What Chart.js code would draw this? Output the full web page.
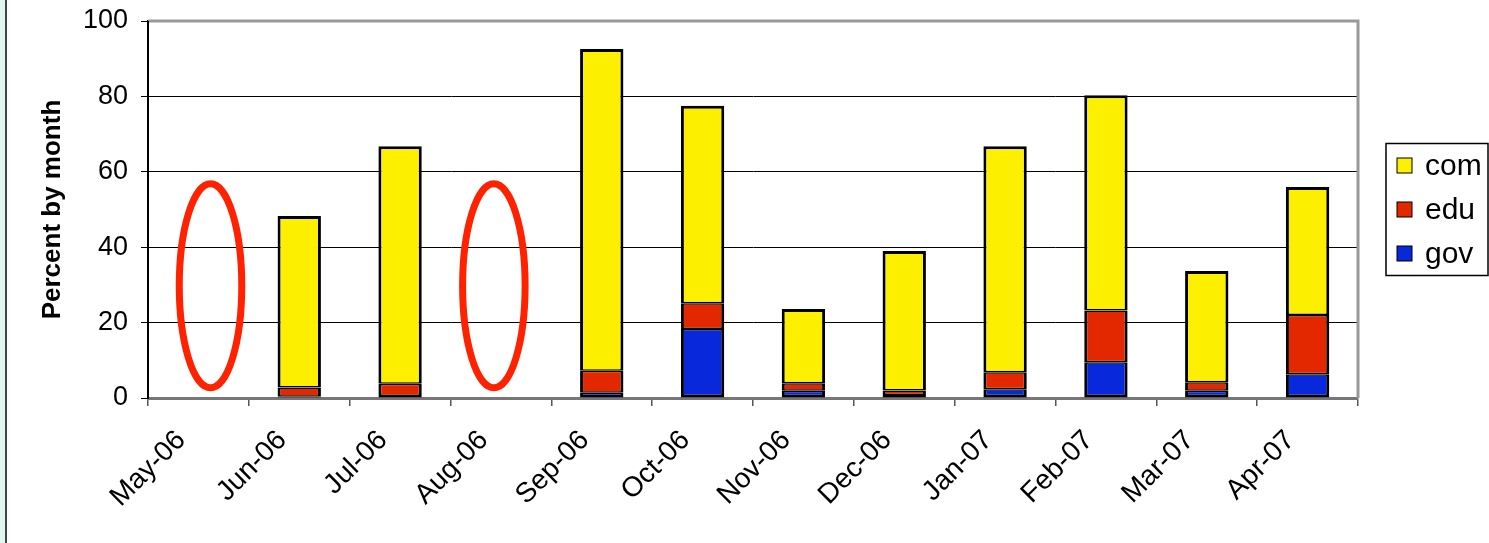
<!DOCTYPE html>
<html>
<head>
<meta charset="utf-8">
<script src="https://cdn.jsdelivr.net/npm/chart.js@4"></script>
<style>
  body { margin: 0; background: #fff; }
  #wrap { position: relative; width: 1489px; height: 543px; }
  #strip { position: absolute; left: 0; top: 0; width: 5px; height: 543px; background: #e4f6f1; border-right: 2px solid #3a4a44; }
  canvas { position: absolute; left: 0; top: 0; }
</style>
</head>
<body>
<div id="wrap">
  <div id="strip"></div>
  <canvas id="chart" width="1489" height="543"></canvas>
</div>
<script>
// Months on the x axis
const months = ['May-06', 'Jun-06', 'Jul-06', 'Aug-06', 'Sep-06', 'Oct-06', 'Nov-06', 'Dec-06', 'Jan-07', 'Feb-07', 'Mar-07', 'Apr-07'];

// Percent by month, per domain (no data for May-06 and Aug-06)
const gov = [null, 0.3, 0.5, null, 1.4, 18.3, 1.9, 0.8, 2.3, 9.5, 1.9, 6.3];
const edu = [null, 2.5, 3.3, null, 5.8, 6.8, 2.0, 1.2, 4.5, 13.7, 2.3, 15.7];
const com = [null, 45.5, 63.0, null, 85.4, 52.4, 19.7, 37.0, 60.0, 57.1, 29.5, 34.0];

const yTicks = [0, 20, 40, 60, 80, 100];

// months circled in red (the gaps), and the value range the rings cover
const ringMonths = ['May-06', 'Aug-06'];
const ringShift = [0.12, -0.07];
const ringTop = 56.8;
const ringBottom = 2.7;

const FONT = 'Liberation Sans, Arial, sans-serif';

// red rings around empty months
const ringPlugin = {
  id: 'rings',
  afterDatasetsDraw(chart) {
    const x = chart.scales.x, y = chart.scales.y;
    const ctx = chart.ctx;
    const step = x.getPixelForValue(1) - x.getPixelForValue(0);
    ctx.save();
    ctx.strokeStyle = '#ff2200';
    ctx.lineWidth = 7;
    ringMonths.forEach((m, i) => {
      const cx = x.getPixelForValue(months.indexOf(m)) + ringShift[i] * step;
      const top = y.getPixelForValue(ringTop), bot = y.getPixelForValue(ringBottom);
      ctx.beginPath();
      ctx.ellipse(cx, (top + bot) / 2, step * 0.31, (bot - top) / 2, 0, 0, Math.PI * 2);
      ctx.stroke();
    });
    ctx.restore();
  }
};

// plot frame and a boxed legend beside the plot
const framePlugin = {
  id: 'frame',
  afterDraw(chart) {
    const a = chart.chartArea;
    const ctx = chart.ctx;
    ctx.save();
    ctx.strokeStyle = '#999';
    ctx.lineWidth = 3;
    ctx.beginPath();
    ctx.moveTo(a.left, a.top);
    ctx.lineTo(a.right, a.top);
    ctx.lineTo(a.right, a.bottom);
    ctx.stroke();
    ctx.strokeStyle = '#000';
    ctx.lineWidth = 2;
    ctx.beginPath();
    ctx.moveTo(a.left, a.top);
    ctx.lineTo(a.left, a.bottom);
    ctx.stroke();

    // legend, top dataset first
    const sets = chart.data.datasets.slice().reverse();
    const boxL = a.right + 28, boxR = chart.width - 1;
    const mid = (a.top + a.bottom) / 2;
    const gap = 44;
    const boxT = mid - gap * 1.5, boxB = mid + gap * 1.5;
    ctx.lineWidth = 1.5;
    ctx.strokeStyle = '#000';
    ctx.strokeRect(boxL, boxT, boxR - boxL, boxB - boxT);
    ctx.font = '30px ' + FONT;
    ctx.textBaseline = 'middle';
    sets.forEach((d, i) => {
      const cy = boxT + gap * (i + 0.5);
      ctx.fillStyle = d.backgroundColor;
      ctx.fillRect(boxL + 11, cy - 7.5, 15, 15);
      ctx.lineWidth = 1;
      ctx.strokeRect(boxL + 11, cy - 7.5, 15, 15);
      ctx.fillStyle = '#000';
      ctx.fillText(d.label, boxL + 39, cy + 1);
    });
    ctx.restore();
  }
};

// borders: thick outside, single line between stacked pieces
const edge = (top, bottom) => ({ top: top, bottom: bottom, left: 3, right: 3 });

new Chart(document.getElementById('chart'), {
  type: 'bar',
  data: {
    labels: months,
    datasets: [
      { label: 'gov', data: gov, backgroundColor: '#0828db', borderWidth: edge(1.5, 3) },
      { label: 'edu', data: edu, backgroundColor: '#e32800', borderWidth: edge(1.5, 1.5) },
      { label: 'com', data: com, backgroundColor: '#fcf000', borderWidth: edge(3, 1.5) }
    ].map(d => Object.assign(d, {
      borderColor: '#000',
      borderSkipped: false,
      categoryPercentage: 1,
      barPercentage: 0.43
    }))
  },
  options: {
    responsive: false,
    animation: false,
    layout: { padding: { top: 21, right: 131, bottom: 0, left: 35 } },
    plugins: {
      legend: { display: false },
      tooltip: { enabled: false }
    },
    scales: {
      x: {
        stacked: true,
        offset: true,
        afterFit(axis) {
          axis.height = 145;
          axis.paddingLeft = 0;
          axis.paddingRight = 0;
        },
        grid: { offset: true, drawOnChartArea: false, drawTicks: true, tickLength: 8, color: '#555', lineWidth: 1.5 },
        border: { color: '#777', width: 3 },
        ticks: {
          font: { family: FONT, size: 28 },
          color: '#000',
          maxRotation: 45,
          minRotation: 45,
          autoSkip: false,
          padding: 18,
          labelOffset: -17
        }
      },
      y: {
        stacked: true,
        min: 0,
        max: 100,
        afterBuildTicks(axis) { axis.ticks = yTicks.map(v => ({ value: v })); },
        afterFit(axis) {
          axis.width = 113;
          axis.paddingTop = 0;
          axis.paddingBottom = 0;
        },
        grid: { color: '#000', lineWidth: 1, tickLength: 7 },
        border: { color: '#000', width: 2 },
        ticks: {
          font: { family: FONT, size: 27 },
          color: '#000',
          padding: 13
        },
        title: {
          display: true,
          text: 'Percent by month',
          font: { family: FONT, size: 26, weight: 'bold' },
          color: '#000',
          padding: { top: 2, bottom: 9 }
        }
      }
    }
  },
  plugins: [ringPlugin, framePlugin]
});
</script>
</body>
</html>
